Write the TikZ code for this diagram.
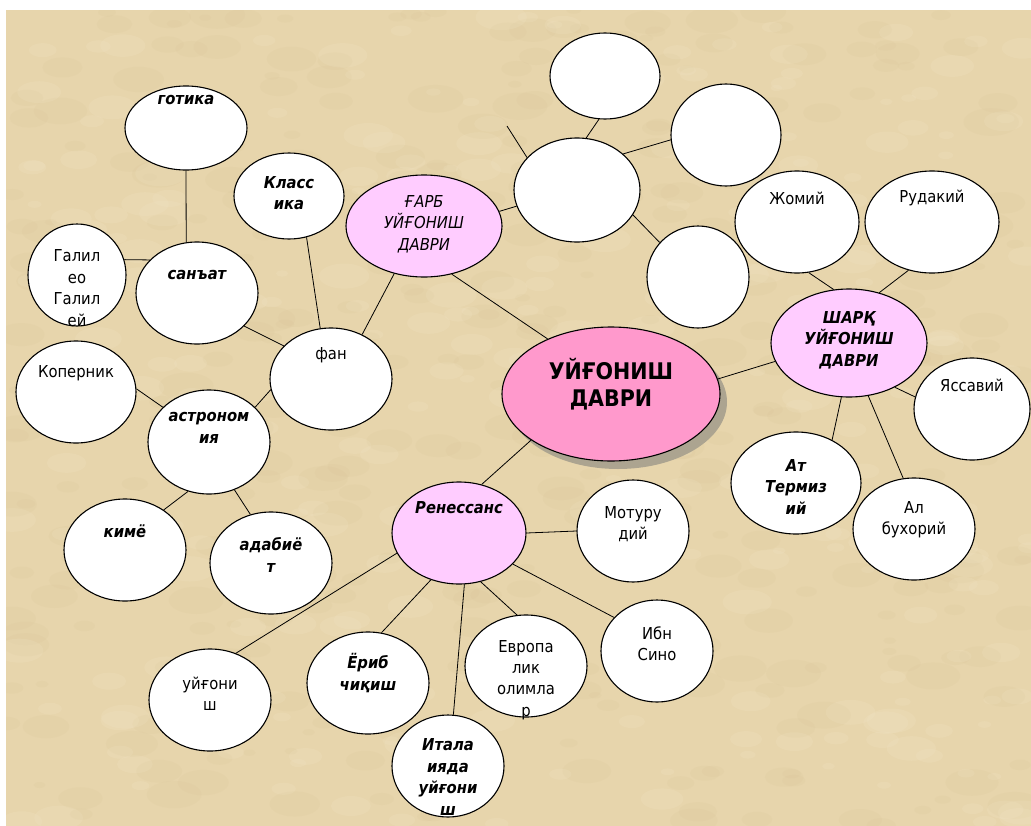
\documentclass[tikz,border=0pt]{standalone}
\usepackage{fontspec}
\setmainfont{DejaVu Sans Condensed}
\usetikzlibrary{shapes.geometric,shadows}

\definecolor{parch}{RGB}{231,213,172}
\definecolor{parchdark}{RGB}{200,176,128}
\definecolor{parchlight}{RGB}{246,234,206}
\definecolor{lilac}{RGB}{255,204,255}
\definecolor{rose}{RGB}{255,153,204}
\definecolor{shade}{RGB}{172,164,144}

\tikzset{
  bub/.style 2 args={ellipse, draw=black, line width=1.1bp, fill=white,
    inner sep=0pt, minimum width=#1bp, minimum height=#2bp},
  hub/.style 2 args={bub={#1}{#2}, fill=lilac},
  lbl/.style={align=center, inner sep=0pt, font=\fontsize{16.5}{21.5}\selectfont},
  lblb/.style={lbl, font=\fontsize{16.5}{21.5}\selectfont\bfseries\itshape},
  lbli/.style={lbl, font=\fontsize{16.5}{21.5}\selectfont\itshape},
  link/.style={draw=black, line width=0.8bp}
}

\begin{document}
\begin{tikzpicture}[x=1bp, y=-1bp]
  % paper
  \useasboundingbox (0,0) rectangle (1031,826);
  \fill[white] (0,0) rectangle (1031,826);
  \fill[parch] (6,10) rectangle (1031,826);
  \begin{scope}
    \clip (6,10) rectangle (1031,826);
    \pgfmathsetseed{11}
    \foreach \i in {1,...,400} {
      \pgfmathsetmacro\px{6+1025*rnd}
      \pgfmathsetmacro\py{10+816*rnd}
      \pgfmathsetmacro\pr{6+22*rnd}
      \fill[parchdark, opacity=0.07] (\px,\py) ellipse ({\pr} and {0.5*\pr});
    }
    \foreach \i in {1,...,300} {
      \pgfmathsetmacro\px{6+1025*rnd}
      \pgfmathsetmacro\py{10+816*rnd}
      \pgfmathsetmacro\pr{6+20*rnd}
      \fill[parchlight, opacity=0.15] (\px,\py) ellipse ({\pr} and {0.5*\pr});
    }
  \end{scope}

  % main ellipse
  \node[bub={218}{134}, fill=rose,
    general shadow={fill=shade, shadow xshift=7bp, shadow yshift=-8bp}] (main) at (611,394) {};
  \node[lbl, font=\fontsize{23}{26.5}\selectfont\bfseries] (main-t) at (611,384) {УЙҒОНИШ\\ДАВРИ};

  % west branch
  \node[hub={156}{102}] (garb) at (424,226) {};
  \node[lbli] (garb-t) at (424,224) {ҒАРБ\\УЙҒОНИШ\\ДАВРИ};
  \node[bub={126}{104}] (e2) at (577,190) {};
  \node[bub={110}{86}] (e1) at (605,76) {};
  \node[bub={110}{102}] (e3) at (726,135) {};
  \node[bub={102}{102}] (e4) at (698,277) {};
  \coordinate (stub) at (507,126);

  % fan and its children
  \node[bub={122}{102}] (fan) at (331,379) {};
  \node[lbl] (fan-t) at (331,355) {фан};
  \node[bub={110}{86}] (klassika) at (289,196) {};
  \node[lblb] (klassika-t) at (289,193) {Класс\\ика};
  \node[bub={122}{102}] (sanat) at (197,293) {};
  \node[lblb] (sanat-t) at (197,275) {санъат};
  \node[bub={122}{84}] (gotika) at (186,128) {};
  \node[lblb] (gotika-t) at (186,100) {готика};
  \node[bub={98}{102}] (galileo) at (77,275) {};
  \node[lbl] (galileo-t) at (77,288) {Галил\\ео\\Галил\\ей};
  \node[bub={122}{104}] (astro) at (209,442) {};
  \node[lblb] (astro-t) at (209,428) {астроном\\ия};
  \node[bub={120}{102}] (kopernik) at (76,392) {};
  \node[lbl] (kopernik-t) at (76,373) {Коперник};
  \node[bub={122}{102}] (kime) at (125,550) {};
  \node[lblb] (kime-t) at (125,531) {кимё};
  \node[bub={122}{102}] (adabiyot) at (271,563) {};
  \node[lblb] (adabiyot-t) at (271,555) {адабиё\\т};

  % Renaissance branch
  \node[hub={134}{102}] (renes) at (459,533) {};
  \node[lblb] (renes-t) at (459,508) {Ренессанс};
  \node[bub={112}{102}] (moturidiy) at (633,531) {};
  \node[lbl] (moturidiy-t) at (633,524) {Мотуру\\дий};
  \node[bub={112}{102}] (ibnsino) at (657,651) {};
  \node[lbl] (ibnsino-t) at (657,644) {Ибн\\Сино};
  \node[bub={122}{102}] (yevropa) at (526,666) {};
  \node[lbl] (yevropa-t) at (526,680) {Европа\\лик\\олимла\\р};
  \node[bub={112}{102}] (italiya) at (448,766) {};
  \node[lblb] (italiya-t) at (448,777) {Итала\\ияда\\уйғони\\ш};
  \node[bub={122}{102}] (yorib) at (368,683) {};
  \node[lblb] (yorib-t) at (368,673) {Ёриб\\чиқиш};
  \node[bub={122}{102}] (uygonish) at (210,700) {};
  \node[lbl] (uygonish-t) at (210,694) {уйғони\\ш};

  % east branch
  \node[hub={156}{108}] (sharq) at (849,343) {};
  \node[lblb] (sharq-t) at (849,340) {ШАРҚ\\УЙҒОНИШ\\ДАВРИ};
  \node[bub={124}{102}] (jomiy) at (797,222) {};
  \node[lbl] (jomiy-t) at (797,198) {Жомий};
  \node[bub={134}{102}] (rudakiy) at (932,222) {};
  \node[lbl] (rudakiy-t) at (932,198) {Рудакий};
  \node[bub={116}{102}] (yassaviy) at (972,409) {};
  \node[lbl] (yassaviy-t) at (972,385) {Яссавий};
  \node[bub={130}{102}] (termiziy) at (796,483) {};
  \node[lblb] (termiziy-t) at (796,487) {Ат\\Термиз\\ий};
  \node[bub={122}{102}] (buxoriy) at (914,529) {};
  \node[lbl] (buxoriy-t) at (914,520) {Ал\\бухорий};

  % connectors
  \draw[link] (garb.-60) -- (main.139);
  \draw[link] (main.8) -- (sharq.194);
  \draw[link] (main.-150) -- (renes.65);
  \draw[link] (garb.11) -- (e2.195);
  \draw[link] (e2.80) -- (e1.-98);
  \draw[link] (e2.147) -- (stub);
  \draw[link] (e2.38) -- (e3.185);
  \draw[link] (e2.-24) -- (e4.138);
  \draw[link] (garb.-122) -- (fan.55);
  \draw[link] (klassika.-67) -- (fan.102);
  \draw[link] (sanat.-35) -- (fan.145);
  \draw[link] (gotika.-90) -- (sanat.102);
  \draw[link] (galileo.18) -- (sanat.145);
  \draw[link] (fan.190) -- (astro.37);
  \draw[link] (kopernik.3) -- (astro.143);
  \draw[link] (astro.-113) -- (kime.46);
  \draw[link] (astro.-62) -- (adabiyot.113);
  \draw[link] (renes.0) -- (moturidiy.180);
  \draw[link] (renes.-30) -- (ibnsino.142);
  \draw[link] (renes.-66) -- (yevropa.100);
  \draw[link] (renes.-84) -- (italiya.84);
  \draw[link] (renes.-121) -- (yorib.75);
  \draw[link] (renes.-162) -- (uygonish.61);
  \draw[link] (jomiy.-77) -- (sharq.106);
  \draw[link] (rudakiy.-116) -- (sharq.59);
  \draw[link] (sharq.-44) -- (yassaviy.168);
  \draw[link] (sharq.-98) -- (termiziy.50);
  \draw[link] (sharq.-70) -- (buxoriy.102);
\end{tikzpicture}
\end{document}
